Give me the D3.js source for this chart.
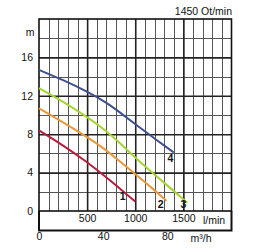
<!DOCTYPE html>
<html lang="en">
  <head>
    <meta charset="UTF-8">
    <script type="text/javascript" src="https://cdn.jsdelivr.net/npm/d3@7"></script>
    <style>
      body { margin: 0; background: #fff; }
      text {
        font-family: 'Liberation Sans', Arial, sans-serif;
        font-size: 10.5px;
        fill: #111;
      }
      .axis path, .axis line { display: none; }
      .grid line { stroke: #555; stroke-width: 1; shape-rendering: crispEdges; }
      .grid path { display: none; }
      .major line { stroke: #222; stroke-width: 1.6; shape-rendering: auto; }
      .curve-label { font-weight: bold; }
    </style>
    <title>Pump curves</title>
  </head>
  <body>
    <script type="text/javascript">
      let w = 270;
      let h = 250;

      // flow in l/min, head in m
      let curve1 = [[0, 8.4], [250, 6.85], [500, 5.1], [700, 3.5], [850, 2.25], [1000, 1.0]];
      let curve2 = [[0, 10.7], [250, 9.25], [500, 7.7], [650, 6.7], [850, 5.1], [1000, 3.85], [1180, 2.35], [1325, 1.05]];
      let curve3 = [[0, 12.8], [250, 11.4], [500, 9.8], [700, 8.35], [850, 7.0], [1000, 5.55], [1200, 3.8], [1400, 2.1], [1540, 0.85]];
      let curve4 = [[0, 14.7], [250, 13.65], [500, 12.45], [700, 11.3], [850, 10.2], [1000, 9.05], [1200, 7.55], [1400, 6.1]];
      let curveNames = ['1', '2', '3', '4'];
      let curveColors = ['#b81e3c', '#e8993a', '#a6d432', '#3f4f8e'];
      let labelPos = [[870, 1.5], [1265, 0.7], [1500, 0.7], [1365, 5.5]];

      let yTicks = [0, 4, 8, 12, 16];
      let lminTicks = [500, 1000, 1500];
      let m3hTicks = [0, 40, 80];

      let pLeft = 39, pRight = 231.5, pTop = 19, pBottom = 211, pBottom2 = 230.5;

      let xScale = d3.scaleLinear().domain([0, 2000]).range([pLeft, pRight]);
      let yScale = d3.scaleLinear().domain([0, 20]).range([pBottom, pTop]);
      let qScale = d3.scaleLinear().domain([0, 120]).range([pLeft, pRight]);

      let svg = d3.select('body')
                  .append('svg')
                  .attr('width', w)
                  .attr('height', h);

      // minor grid
      svg.append('g')
          .attr('class', 'grid')
          .attr('transform', 'translate(0,' + pBottom + ')')
          .call(d3.axisBottom(xScale).tickValues(d3.range(100, 2000, 100)).tickSize(-(pBottom - pTop)).tickFormat(''));
      svg.append('g')
          .attr('class', 'grid')
          .attr('transform', 'translate(' + pLeft + ',0)')
          .call(d3.axisLeft(yScale).tickValues(d3.range(2, 20, 2)).tickSize(-(pRight - pLeft)).tickFormat(''));

      // major grid
      svg.append('g')
          .attr('class', 'grid major')
          .attr('transform', 'translate(0,' + pBottom + ')')
          .call(d3.axisBottom(xScale).tickValues(lminTicks).tickSize(-(pBottom - pTop)).tickFormat(''));
      svg.append('g')
          .attr('class', 'grid major')
          .attr('transform', 'translate(' + pLeft + ',0)')
          .call(d3.axisLeft(yScale).tickValues(yTicks.slice(1)).tickSize(-(pRight - pLeft)).tickFormat(''));

      // frames
      svg.append('rect')
          .attr('x', pLeft).attr('y', pTop)
          .attr('width', pRight - pLeft).attr('height', pBottom - pTop)
          .attr('fill', 'none').attr('stroke', '#111').attr('stroke-width', 1.6);
      svg.append('path')
          .attr('d', 'M' + pLeft + ',' + pBottom + 'V' + pBottom2 + 'H' + pRight + 'V' + pBottom)
          .attr('fill', 'none').attr('stroke', '#111').attr('stroke-width', 2);

      // curves
      let line = d3.line()
                    .x(d => xScale(d[0]))
                    .y(d => yScale(d[1]))
                    .curve(d3.curveBasis);

      [curve1, curve2, curve3, curve4].forEach((c, i) => {
        svg.append('path')
            .datum(c)
            .attr('d', line)
            .attr('fill', 'none')
            .attr('stroke', curveColors[i])
            .attr('stroke-width', 2);
        svg.append('text')
            .attr('class', 'curve-label')
            .attr('x', xScale(labelPos[i][0]))
            .attr('y', yScale(labelPos[i][1]))
            .attr('text-anchor', 'middle')
            .attr('dy', '0.35em')
            .text(curveNames[i]);
      });

      let fmt = d3.format('d');

      // y axis labels
      svg.append('g')
          .attr('class', 'axis')
          .attr('transform', 'translate(' + (pLeft - 6) + ',0)')
          .call(d3.axisLeft(yScale).tickValues(yTicks).tickFormat(fmt).tickSize(0).tickPadding(0));
      svg.append('text')
          .attr('x', 30).attr('y', 32).attr('dy', '0.35em')
          .attr('text-anchor', 'middle')
          .text('m');

      // l/min labels
      svg.append('g')
          .attr('class', 'axis')
          .attr('transform', 'translate(0,' + 214.5 + ')')
          .call(d3.axisBottom(xScale).tickValues(lminTicks).tickFormat(fmt).tickSize(0).tickPadding(0));
      svg.append('text')
          .attr('x', 203).attr('y', 220).attr('dy', '0.35em')
          .text('l/min');

      // m3/h labels
      svg.append('g')
          .attr('class', 'axis')
          .attr('transform', 'translate(0,' + 233 + ')')
          .call(d3.axisBottom(qScale).tickValues(m3hTicks).tickFormat(fmt).tickSize(0).tickPadding(0));
      svg.append('text')
          .attr('x', 201).attr('y', 238.5).attr('dy', '0.35em')
          .attr('text-anchor', 'middle')
          .text('m³/h');

      svg.append('text')
          .attr('x', 232).attr('y', 15)
          .attr('text-anchor', 'end')
          .text('1450 Ot/min');

      svg.selectAll('.axis text')
          .style('font-size', '10.5px')
          .style('fill', '#111')
          .style('font-family', "'Liberation Sans', Arial, sans-serif");
    </script>
  </body>
</html>
